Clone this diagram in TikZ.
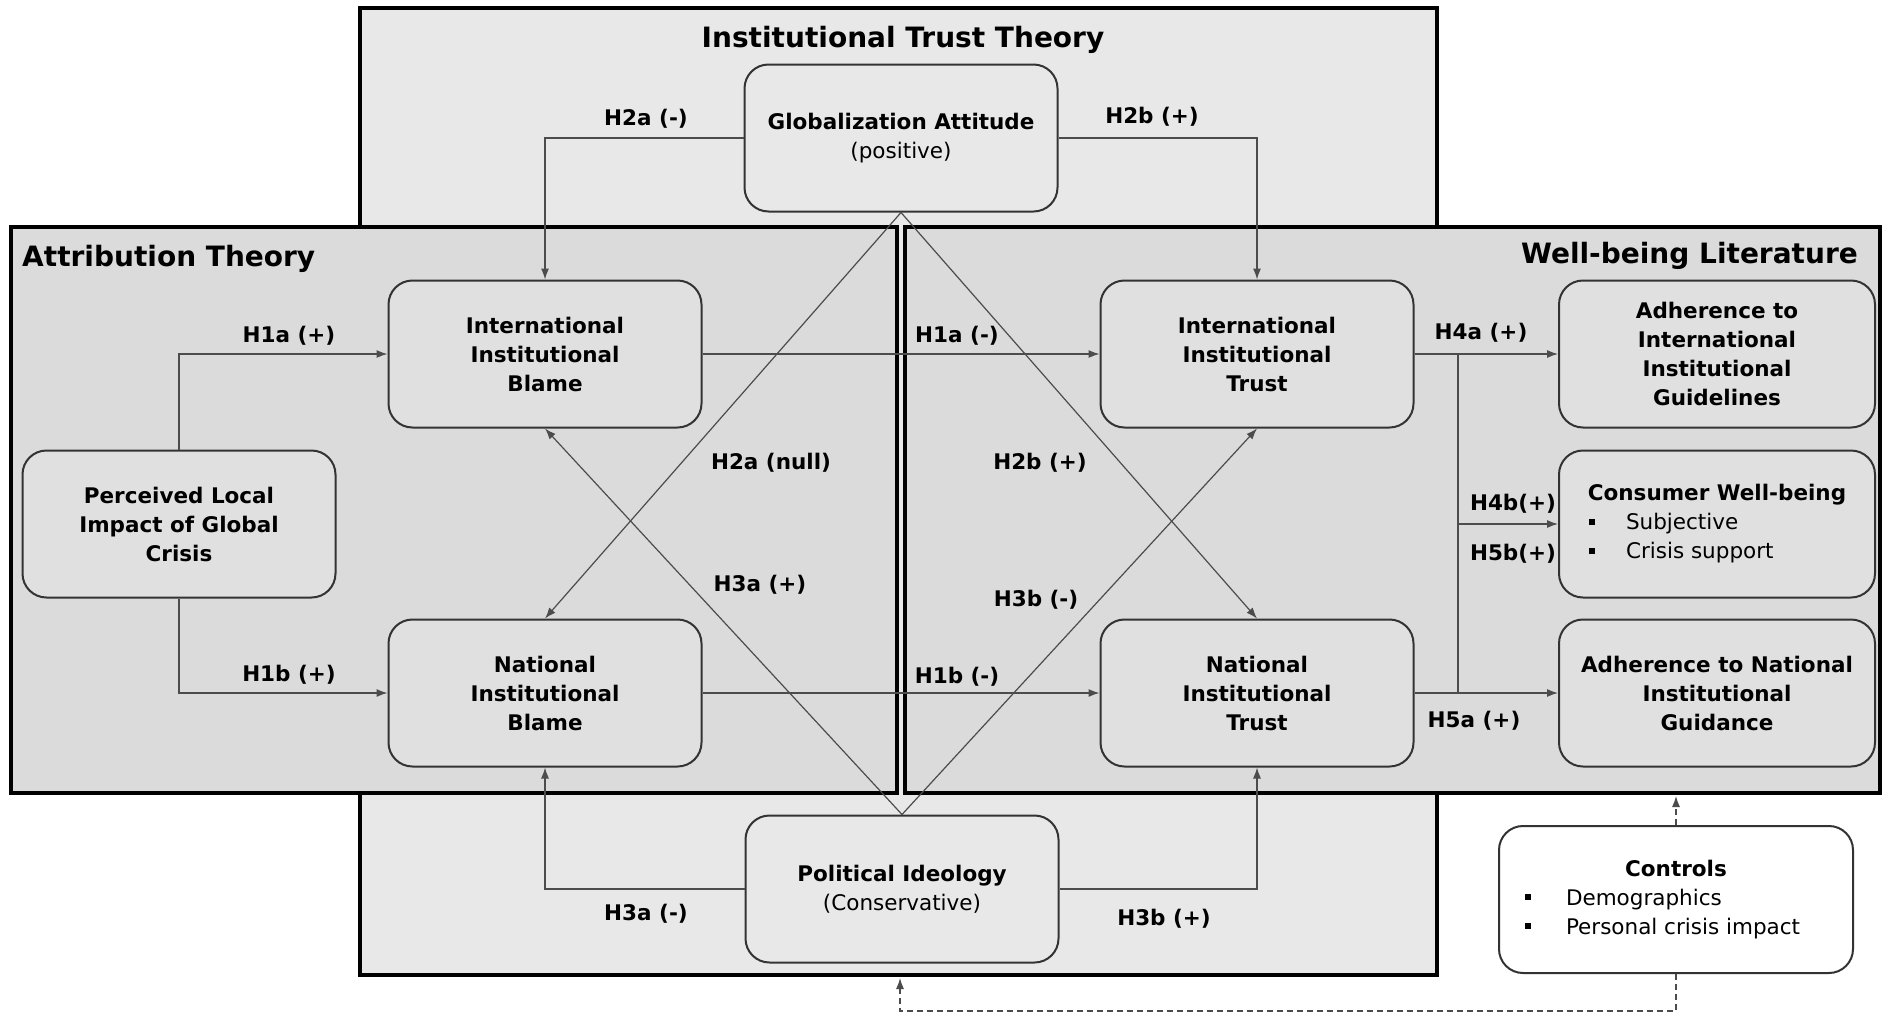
\documentclass[tikz,border=0pt]{standalone}
\usepackage{fontspec}
\setmainfont{DejaVu Sans}
\usetikzlibrary{arrows.meta}
\newcommand{\bulline}[3]{\makebox[#1][l]{\makebox[#2][l]{\rule[5pt]{5.5pt}{6pt}}#3}}
\begin{document}
\begin{tikzpicture}[x=1pt,y=-1pt,
  outer/.style={draw=black,line width=3.5pt},
  box/.style={draw=black!80,line width=2pt,rounded corners=24pt,fill=black!12,align=center,
    font=\bfseries\fontsize{21.5}{29}\selectfont,inner sep=0pt,
    minimum width=313pt,minimum height=147pt},
  conn/.style={draw=black!70,line width=1.2pt,-{Latex[length=11pt,width=8pt]}},
  plain/.style={draw=black!70,line width=1.2pt},
  lab/.style={font=\bfseries\fontsize{21.5}{29}\selectfont,inner sep=1pt,yshift=-2.5pt},
  ttl/.style={font=\bfseries\fontsize{28}{34}\selectfont,inner sep=0pt,yshift=-2.5pt},
]
\useasboundingbox (0,0) rectangle (1883,1015);
\fill[white] (0,0) rectangle (1883,1015);
% theory frames
\draw[outer,fill=black!9] (360,8) rectangle (1437,975);
\draw[outer,fill=black!14] (11,227) rectangle (897,793);
\draw[outer,fill=black!14] (905,227) rectangle (1880,793);
\node[ttl] (tItt) at (903,37) {Institutional Trust Theory};
\node[ttl,anchor=west] (tAtt) at (22,256) {Attribution Theory};
\node[ttl,anchor=east] (tWb) at (1858,253) {Well-being Literature};

% nodes
\node[box,fill=black!9] (glob) at (901,138) {Globalization Attitude\\ {\mdseries (positive)}};
\node[box,fill=black!9] (pi) at (902,889) {Political Ideology\\ {\mdseries (Conservative)}};
\node[box] (iib) at (545,354) {International\\ Institutional\\ Blame};
\node[box] (nib) at (545,693) {National\\ Institutional\\ Blame};
\node[box] (pli) at (179,524) {Perceived Local\\ Impact of Global\\ Crisis};
\node[box] (iit) at (1257,354) {International\\ Institutional\\ Trust};
\node[box] (nit) at (1257,693) {National\\ Institutional\\ Trust};
\node[box,minimum width=316pt] (aii) at (1717,354) {Adherence to\\ International\\ Institutional\\ Guidelines};
\node[box,minimum width=316pt] (cwb) at (1717,524) {Consumer Well-being\\
  {\mdseries\bulline{256pt}{37pt}{Subjective}}\\
  {\mdseries\bulline{256pt}{37pt}{Crisis support}}};
\node[box,minimum width=316pt] (ang) at (1717,693) {Adherence to National\\ Institutional\\ Guidance};
\node[box,fill=white,minimum width=354pt] (ctrl) at (1676,899.5) {Controls\\
  {\mdseries\bulline{302pt}{41pt}{Demographics}}\\
  {\mdseries\bulline{302pt}{41pt}{Personal crisis impact}}};

% connectors
\draw[conn] (glob.west) -| (iib.north);
\draw[conn] (glob.east) -| (iit.north);
\draw[conn] (pli.north) |- (iib.west);
\draw[conn] (pli.south) |- (nib.west);
\draw[conn] (iib.east) -- (iit.west);
\draw[conn] (nib.east) -- (nit.west);
\draw[conn] (glob.south) -- (nib.north);
\draw[conn] (glob.south) -- (nit.north);
\draw[conn] (pi.north) -- (iib.south);
\draw[conn] (pi.north) -- (iit.south);
\draw[conn] (pi.west) -| (nib.south);
\draw[conn] (pi.east) -| (nit.south);
\draw[conn] (iit.east) -- (aii.west);
\draw[conn] (nit.east) -- (ang.west);
\coordinate (brT) at (1458,354);
\coordinate (brB) at (1458,693);
\coordinate (brM) at (1458,524);
\draw[plain] (brT) -- (brB);
\draw[conn] (brM) -- (cwb.west);
\coordinate (wbB) at (1676,796);
\coordinate (cLow) at (1676,1011);
\coordinate (ittB) at (900,978);
\draw[conn,dash pattern=on 6pt off 4pt] (ctrl.north) -- (wbB);
\draw[conn,dash pattern=on 6pt off 4pt] (ctrl.south) -- (cLow) -| (ittB);

% labels
\node[lab] (L1) at (646,116) {H2a (-)};
\node[lab] (L2) at (1152,114) {H2b (+)};
\node[lab] (L3) at (289,333) {H1a (+)};
\node[lab] (L4) at (289,672) {H1b (+)};
\node[lab] (L5) at (957,333) {H1a (-)};
\node[lab] (L6) at (957,674) {H1b (-)};
\node[lab] (L7) at (771,460) {H2a (null)};
\node[lab] (L8) at (1040,460) {H2b (+)};
\node[lab] (L9) at (760,582) {H3a (+)};
\node[lab] (L10) at (1036,597) {H3b (-)};
\node[lab] (L11) at (646,911) {H3a (-)};
\node[lab] (L12) at (1164,916) {H3b (+)};
\node[lab] (L13) at (1481,330) {H4a (+)};
\node[lab] (L14) at (1513,501) {H4b(+)};
\node[lab] (L15) at (1513,551) {H5b(+)};
\node[lab] (L16) at (1474,718) {H5a (+)};
\end{tikzpicture}
\end{document}
